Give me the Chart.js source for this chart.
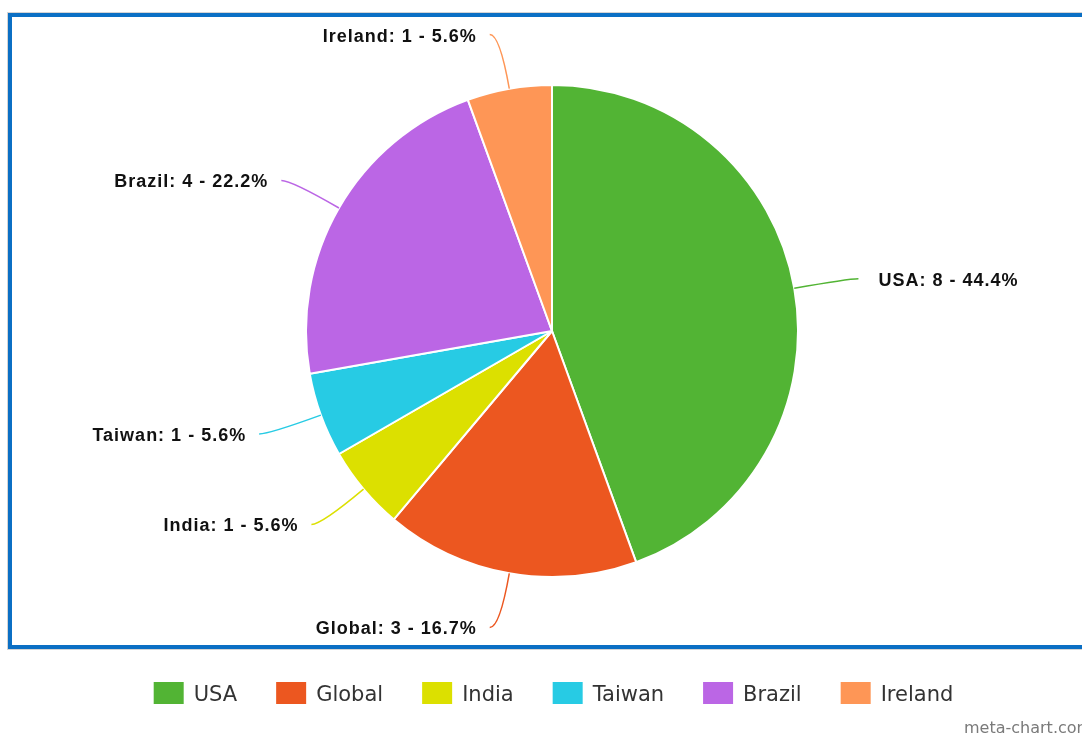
<!DOCTYPE html>
<html>
<head>
<meta charset="utf-8">
<script src="https://cdn.jsdelivr.net/npm/chart.js@4.4.1/dist/chart.umd.min.js"></script>
<style>
  html, body { margin: 0; padding: 0; background: #ffffff; }
  #wrap { width: 1082px; height: 735px; position: relative; }
  canvas { display: block; }
</style>
</head>
<body>
<div id="wrap"><canvas id="pie" width="1082" height="735"></canvas></div>
<script>
// Slice data
const categories = ["USA", "Global", "India", "Taiwan", "Brazil", "Ireland"];
const counts = [8, 3, 1, 1, 4, 1];
const sliceColors = ["#52b434", "#ec5720", "#dce000", "#27cbe4", "#bb66e5", "#fe9656"];
const watermark = "meta-chart.com";

const total = counts.reduce((a, b) => a + b, 0);
const labelText = i => `${categories[i]}: ${counts[i]} - ${(counts[i] / total * 100).toFixed(1)}%`;

// Frame, leader lines with labels, legend row and watermark
const decorations = {
  id: 'decorations',
  afterDraw(chart) {
    const ctx = chart.ctx;
    const arcs = chart.getDatasetMeta(0).data;

    // blue frame
    ctx.save();
    ctx.strokeStyle = '#d4d4d4';
    ctx.lineWidth = 1;
    ctx.strokeRect(7.5, 12.5, 1100, 637);
    ctx.strokeStyle = '#0b6fc4';
    ctx.lineWidth = 4;
    ctx.strokeRect(10, 15, 1100, 632);
    ctx.restore();

    // leader lines and labels
    arcs.forEach((arc, i) => {
      const mid = (arc.startAngle + arc.endAngle) / 2;
      const r0 = arc.outerRadius;
      const r1 = r0 + 55;
      const sx = arc.x + Math.cos(mid) * r0;
      const sy = arc.y + Math.sin(mid) * r0;
      const cx = arc.x + Math.cos(mid) * r1;
      const cy = arc.y + Math.sin(mid) * r1;
      const right = Math.cos(mid) >= 0;
      const ex = cx + (right ? 10 : -10);
      const ey = cy;

      ctx.save();
      ctx.strokeStyle = sliceColors[i];
      ctx.lineWidth = 1.5;
      ctx.beginPath();
      ctx.moveTo(sx, sy);
      ctx.quadraticCurveTo(cx, cy, ex, ey);
      ctx.stroke();

      ctx.fillStyle = '#111111';
      ctx.font = 'bold 18px "Liberation Sans", Arial, sans-serif';
      ctx.letterSpacing = '1px';
      ctx.textBaseline = 'middle';
      const txt = labelText(i);
      const w = ctx.measureText(txt).width;
      const tx = right ? ex + 20 : ex - 13 - w;
      ctx.textAlign = 'left';
      ctx.fillText(txt, tx, ey + 2);
      ctx.restore();
    });

    // legend row
    ctx.save();
    ctx.font = '21px "DejaVu Sans", sans-serif';
    ctx.textBaseline = 'middle';
    const boxW = 30, boxH = 22, textGap = 10, itemGap = 39;
    const widths = categories.map(c => boxW + textGap + ctx.measureText(c).width);
    const rowW = widths.reduce((a, b) => a + b, 0) + itemGap * (categories.length - 1);
    let x = arcs[0].x + 1.5 - rowW / 2;
    const boxTop = 682;
    categories.forEach((c, i) => {
      ctx.fillStyle = sliceColors[i];
      ctx.fillRect(x, boxTop, boxW, boxH);
      ctx.fillStyle = '#333333';
      ctx.fillText(c, x + boxW + textGap, boxTop + boxH / 2 + 3);
      x += widths[i] + itemGap;
    });
    ctx.restore();

    // watermark
    ctx.save();
    ctx.font = '16px "DejaVu Sans", sans-serif';
    ctx.fillStyle = '#7a7a7a';
    ctx.textBaseline = 'alphabetic';
    ctx.fillText(watermark, 964, 733);
    ctx.restore();
  }
};

new Chart(document.getElementById('pie'), {
  type: 'pie',
  data: {
    labels: categories,
    datasets: [{
      data: counts,
      backgroundColor: sliceColors,
      borderColor: '#ffffff',
      borderWidth: 2
    }]
  },
  options: {
    responsive: false,
    animation: false,
    devicePixelRatio: 1,
    layout: { padding: { left: 305, top: 84, right: 283, bottom: 157 } },
    plugins: {
      legend: { display: false },
      tooltip: { enabled: false }
    }
  },
  plugins: [decorations]
});
</script>
</body>
</html>
